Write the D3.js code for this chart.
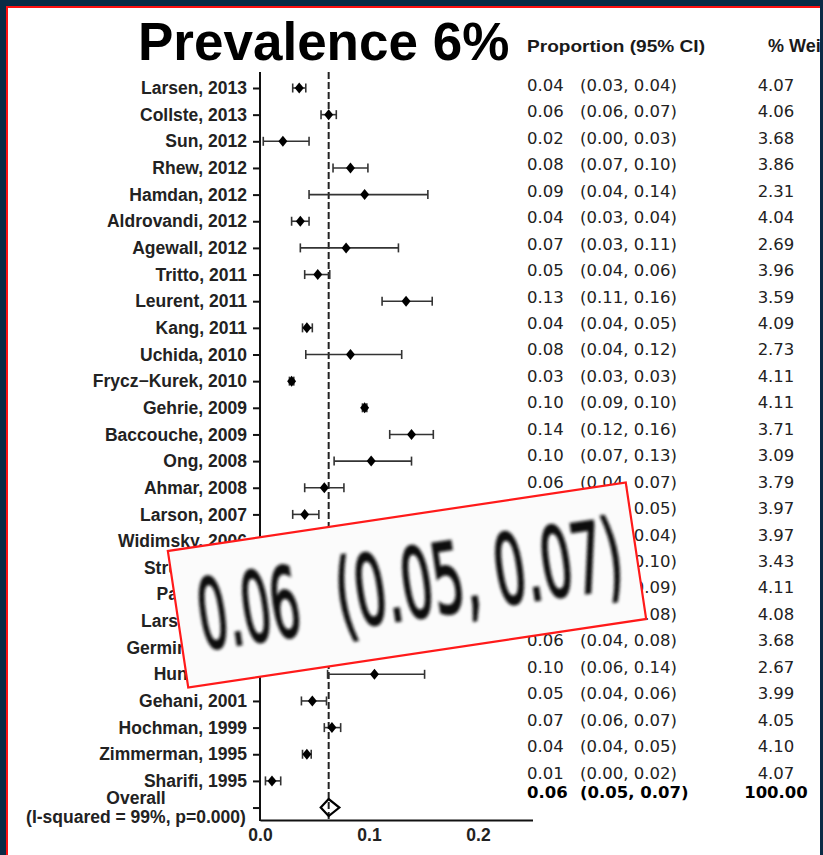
<!DOCTYPE html>
<html><head><meta charset="utf-8">
<script src="https://cdn.jsdelivr.net/npm/d3@7/dist/d3.min.js"></script>
<style>html,body{margin:0;padding:0;background:#0a2b45;}svg{display:block;}</style>
</head><body>
<script>
// ---- data ----
const studies = ["Larsen, 2013","Collste, 2013","Sun, 2012","Rhew, 2012","Hamdan, 2012","Aldrovandi, 2012","Agewall, 2012","Tritto, 2011","Leurent, 2011","Kang, 2011","Uchida, 2010","Frycz\u2212Kurek, 2010","Gehrie, 2009","Baccouche, 2009","Ong, 2008","Ahmar, 2008","Larson, 2007","Widimsky, 2006","Strunz, 2006","Patel, 2006","Larsen, 2005","Germing, 2005","Hung, 2004","Gehani, 2001","Hochman, 1999","Zimmerman, 1995","Sharifi, 1995"];
// plotted point estimates and CI (as drawn)
const est = [0.036,0.063,0.021,0.083,0.096,0.037,0.079,0.053,0.134,0.043,0.083,0.029,0.096,0.139,0.102,0.059,0.041,0.035,0.082,0.084,0.072,0.060,0.105,0.048,0.066,0.043,0.011];
const lo  = [0.030,0.056,0.003,0.067,0.045,0.029,0.037,0.041,0.112,0.039,0.042,0.027,0.094,0.119,0.068,0.041,0.030,0.029,0.062,0.077,0.064,0.042,0.062,0.038,0.059,0.039,0.005];
const hi  = [0.042,0.070,0.045,0.099,0.154,0.045,0.127,0.064,0.158,0.048,0.130,0.031,0.098,0.159,0.139,0.077,0.054,0.042,0.101,0.091,0.080,0.079,0.151,0.061,0.074,0.047,0.019];
// printed table values
const tabEst = [0.04,0.06,0.02,0.08,0.09,0.04,0.07,0.05,0.13,0.04,0.08,0.03,0.10,0.14,0.10,0.06,0.04,0.03,0.08,0.09,0.07,0.06,0.10,0.05,0.07,0.04,0.01];
const tabLo  = [0.03,0.06,0.00,0.07,0.04,0.03,0.03,0.04,0.11,0.04,0.04,0.03,0.09,0.12,0.07,0.04,0.03,0.03,0.06,0.08,0.07,0.04,0.06,0.04,0.06,0.04,0.00];
const tabHi  = [0.04,0.07,0.03,0.10,0.14,0.04,0.11,0.06,0.16,0.05,0.12,0.03,0.10,0.16,0.13,0.07,0.05,0.04,0.10,0.09,0.08,0.08,0.14,0.06,0.07,0.05,0.02];
const weights = [4.07,4.06,3.68,3.86,2.31,4.04,2.69,3.96,3.59,4.09,2.73,4.11,4.11,3.71,3.09,3.79,3.97,3.97,3.43,4.11,4.08,3.68,2.67,3.99,4.05,4.10,4.07];
const overall = {est:0.063, lo:0.0557, hi:0.0728, tEst:0.06, tLo:0.05, tHi:0.07, w:100.00};
const overallLabel = ["Overall","(I-squared = 99%, p=0.000)"];
const xTicks = [0.0,0.1,0.2];
const title = "Prevalence 6%";

// ---- layout ----
const W = 823, H = 855;
const svg = d3.select("body").append("svg").attr("width", W).attr("height", H);
svg.append("rect").attr("width", W).attr("height", H).attr("fill", "#0a2b45");
svg.append("rect").attr("x", 6).attr("y", 6).attr("width", 814).attr("height", H-6).attr("fill", "#ff1010");
svg.append("rect").attr("x", 8).attr("y", 8).attr("width", 812).attr("height", H-8).attr("fill", "#ffffff");

const rows = studies.concat(["Overall"]);
const x = d3.scaleLinear().domain([0, 0.25]).range([260, 532.5]);
const y = d3.scalePoint().domain(rows).range([88, 88 + 27*26.65]);
const yText = d3.scalePoint().domain(studies).range([85, 772.7]);
const yTextOverall = 792;
const f2 = d3.format(".2f");
const lab = "'Liberation Sans', Arial, Helvetica, sans-serif";
const tab = "'DejaVu Sans', 'Liberation Sans', sans-serif";

// title
svg.append("text").attr("x", 138).attr("y", 60).attr("font-family", lab).attr("font-weight", "bold")
  .attr("font-size", 53).attr("fill", "#000").text(title);

// headers
svg.append("text").attr("x", 527).attr("y", 52).attr("font-family", "'Liberation Sans Narrow','Liberation Sans',Arial,sans-serif")
  .attr("font-weight", "bold").attr("font-size", 17).attr("fill", "#1a1a1a")
  .attr("textLength", 178).attr("lengthAdjust", "spacingAndGlyphs").text("Proportion (95% CI)");
svg.append("text").attr("x", 768).attr("y", 52).attr("font-family", lab)
  .attr("font-weight", "bold").attr("font-size", 18).attr("fill", "#1a1a1a").text("% Weight");

// y axis
const yAxis = d3.axisLeft(y).tickSize(7).tickPadding(6).tickSizeOuter(0)
  .tickFormat(d => d === "Overall" ? "" : d);
const gy = svg.append("g").attr("transform", `translate(${x(0)},0)`).call(yAxis);
gy.select(".domain").remove();
gy.selectAll(".tick line").attr("stroke", "#111").attr("stroke-width", 2);
gy.selectAll(".tick text").attr("font-family", lab).attr("font-weight", "bold")
  .attr("font-size", 17.5).attr("fill", "#222");
svg.append("line").attr("x1", x(0)).attr("x2", x(0)).attr("y1", 72).attr("y2", 821)
  .attr("stroke", "#111").attr("stroke-width", 2);

// overall label
const ol = svg.append("text").attr("font-family", lab).attr("font-weight", "bold")
  .attr("font-size", 17.5).attr("fill", "#222").attr("text-anchor", "middle");
ol.append("tspan").attr("x", 136).attr("y", 804).text(overallLabel[0]);
ol.append("tspan").attr("x", 136).attr("y", 823).text(overallLabel[1]);

// x axis
const gx = svg.append("g").attr("transform", `translate(0,820)`)
  .call(d3.axisBottom(x).tickValues(xTicks).tickFormat(d3.format(".1f")).tickSize(0).tickPadding(9).tickSizeOuter(0));
gx.select(".domain").attr("stroke", "#111").attr("stroke-width", 2);
gx.selectAll(".tick text").attr("font-family", lab).attr("font-weight", "bold").attr("font-size", 17.5).attr("fill", "#222");

// reference dashed line
svg.append("line").attr("x1", x(overall.est)).attr("x2", x(overall.est)).attr("y1", 72).attr("y2", 820)
  .attr("stroke", "#222").attr("stroke-width", 2).attr("stroke-dasharray", "7,3");

// CIs and markers
const data = studies.map((s, i) => ({s, e: est[i], l: lo[i], h: hi[i]}));
const g = svg.append("g");
g.selectAll("line.ci").data(data).join("line").attr("class", "ci")
  .attr("x1", d => x(d.l)).attr("x2", d => x(d.h)).attr("y1", d => y(d.s)).attr("y2", d => y(d.s))
  .attr("stroke", "#333").attr("stroke-width", 1.6);
["l", "h"].forEach(k => {
  g.selectAll("line.cap" + k).data(data).join("line").attr("class", "cap" + k)
    .attr("x1", d => x(d[k])).attr("x2", d => x(d[k])).attr("y1", d => y(d.s) - 4.5).attr("y2", d => y(d.s) + 4.5)
    .attr("stroke", "#333").attr("stroke-width", 1.6);
});
g.selectAll("path.pt").data(data).join("path").attr("class", "pt")
  .attr("d", d => { const cx = x(d.e), cy = y(d.s); return `M${cx},${cy-5.5}L${cx+4.5},${cy}L${cx},${cy+5.5}L${cx-4.5},${cy}Z`; })
  .attr("fill", "#000");

// overall diamond
{
  const cy = y("Overall");
  svg.append("path").attr("d", `M${x(overall.lo)},${cy}L${x(overall.est)},${cy-8.5}L${x(overall.hi)},${cy}L${x(overall.est)},${cy+8.5}Z`)
    .attr("fill", "none").attr("stroke", "#000").attr("stroke-width", 2.2);
}

// table text
const tg = svg.append("g").attr("font-family", tab).attr("font-size", 16.5).attr("fill", "#222");
tg.selectAll("text.te").data(studies).join("text").attr("class", "te")
  .attr("x", 527).attr("y", d => yText(d)).attr("dy", "0.36em").text((d, i) => f2(tabEst[i]));
tg.selectAll("text.tc").data(studies).join("text").attr("class", "tc")
  .attr("x", 580).attr("y", d => yText(d)).attr("dy", "0.36em").text((d, i) => `(${f2(tabLo[i])}, ${f2(tabHi[i])})`);
tg.selectAll("text.tw").data(studies).join("text").attr("class", "tw")
  .attr("x", 776).attr("y", d => yText(d)).attr("dy", "0.36em").attr("text-anchor", "middle").text((d, i) => f2(weights[i]));
const og = tg.append("g").attr("font-weight", "bold").attr("fill", "#000");
og.append("text").attr("x", 527).attr("y", yTextOverall).attr("dy", "0.36em").text(f2(overall.tEst));
og.append("text").attr("x", 580).attr("y", yTextOverall).attr("dy", "0.36em").text(`(${f2(overall.tLo)}, ${f2(overall.tHi)})`);
og.append("text").attr("x", 776).attr("y", yTextOverall).attr("dy", "0.36em").attr("text-anchor", "middle").text(f2(overall.w));

// right navy edge
svg.append("rect").attr("x", 820).attr("y", 0).attr("width", 3).attr("height", H).attr("fill", "#0a2b45");

// zoomed inset of the overall estimate
const defs = svg.append("defs");
defs.append("filter").attr("id", "blur").append("feGaussianBlur").attr("stdDeviation", 1.4);
const ig = svg.append("g").attr("transform", "translate(407,585) rotate(-8.5)");
ig.append("rect").attr("x", -231.5).attr("y", -69).attr("width", 463).attr("height", 138)
  .attr("fill", "#fbfbfb").attr("stroke", "#ff1a1a").attr("stroke-width", 2.2);
const it = ig.append("g").attr("font-family", "'DejaVu Sans', sans-serif").attr("font-size", 97)
  .attr("fill", "#111").attr("stroke", "#111").attr("stroke-width", 2.6).attr("filter", "url(#blur)");
it.append("text").attr("x", -211).attr("y", 34).attr("textLength", 102).attr("lengthAdjust", "spacingAndGlyphs")
  .text(f2(overall.tEst));
it.append("text").attr("x", -72).attr("y", 34).attr("textLength", 289).attr("lengthAdjust", "spacingAndGlyphs")
  .text(`(${f2(overall.tLo)}, ${f2(overall.tHi)})`);
</script>
</body></html>
